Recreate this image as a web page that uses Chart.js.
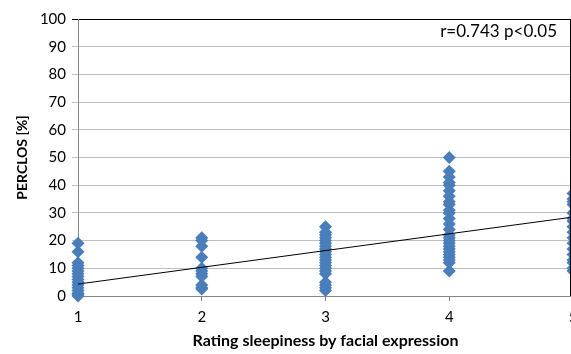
<!DOCTYPE html>
<html>
<head>
<meta charset="utf-8">
<script src="https://cdn.jsdelivr.net/npm/chart.js@4"></script>
<style>
  html, body { margin: 0; padding: 0; background: #fff; overflow: hidden; }
  #wrap { width: 600px; height: 354px; }
</style>
</head>
<body>
<div id="wrap"><canvas id="grafico"></canvas></div>
<script>
const ratings = [1, 2, 3, 4, 5];

const perclos1 = [19, 16, 12, 11, 10, 9, 8, 7, 6, 5, 4, 3, 2, 1, 0.5, 0];
const perclos2 = [21, 20, 18, 14, 10, 9, 8, 7, 4, 3, 2.5];
const perclos3 = [25, 23, 22, 21, 20, 19, 18, 17, 16, 15, 14, 13, 12, 11, 10, 9, 8, 5, 4, 3, 2];
const perclos4 = [50, 45, 43, 41, 40, 38, 36, 34, 33, 31, 30, 28, 26, 24, 22, 21, 20, 19, 18, 17, 16, 15, 14, 13, 12, 9];
const perclos5 = [37, 35, 34, 33, 30, 28, 27, 25, 23, 21, 19, 17, 15, 13, 12, 10, 9];

const trendX = [1, 5];
const trendY = [4.3, 28.5];

const yTicks = [0, 10, 20, 30, 40, 50, 60, 70, 80, 90, 100];

const correlationText = 'r=0.743 p<0.05';

const allSeries = [perclos1, perclos2, perclos3, perclos4, perclos5];
const points = [];
allSeries.forEach(function (serie, i) {
    serie.forEach(function (v) {
        points.push({ x: ratings[i], y: v });
    });
});

const fonte = 'Lato, "Liberation Sans", sans-serif';

// texto da correlacao e borda direita da area do grafico
const textoCorrelacao = {
    id: 'textoCorrelacao',
    afterDraw: function (chart) {
        const c = chart.ctx;
        const area = chart.chartArea;
        c.save();
        c.strokeStyle = '#000';
        c.lineWidth = 1;
        c.beginPath();
        c.moveTo(570.5, area.top);
        c.lineTo(570.5, area.bottom);
        c.stroke();
        c.font = '17px ' + fonte;
        c.fillStyle = '#000';
        c.textAlign = 'right';
        c.textBaseline = 'middle';
        c.fillText(correlationText, 557, area.top + 13);
        c.restore();
    }
};

new Chart(document.getElementById('grafico'), {
    type: 'scatter',
    data: {
        datasets: [{
            type: 'line',
            data: trendX.map((x, i) => ({ x: x, y: trendY[i] })),
            borderColor: '#000',
            borderWidth: 1,
            pointRadius: 0,
            fill: false,
            order: 0
        }, {
            data: points,
            pointStyle: 'rectRot',
            pointRadius: 6.5,
            pointHoverRadius: 6.5,
            backgroundColor: '#4a7ebb',
            borderColor: '#4a7ebb',
            borderWidth: 0,
            clip: false,
            order: 1
        }]
    },
    options: {
        responsive: true,
        maintainAspectRatio: false,
        animation: false,
        layout: { padding: { top: 19, right: 27, left: 0, bottom: 0 } },
        plugins: {
            legend: { display: false },
            tooltip: { enabled: false }
        },
        scales: {
            x: {
                type: 'linear',
                min: 1,
                max: 5,
                afterBuildTicks: function (scale) {
                    scale.ticks = ratings.map(v => ({ value: v }));
                },
                afterFit: function (scale) { scale.height = 58; },
                grid: {
                    drawOnChartArea: false,
                    color: '#868686',
                    tickLength: 5
                },
                border: { color: '#868686' },
                ticks: {
                    color: '#000',
                    font: { family: fonte, size: 15 },
                    padding: 7
                },
                title: {
                    display: true,
                    text: 'Rating sleepiness by facial expression',
                    color: '#000',
                    font: { family: fonte, size: 16, weight: 'bold' },
                    padding: { top: 6 }
                }
            },
            y: {
                min: 0,
                max: 100,
                afterBuildTicks: function (scale) {
                    scale.ticks = yTicks.map(v => ({ value: v }));
                },
                afterFit: function (scale) { scale.width = 78; },
                grid: {
                    color: ctx => (ctx.tick && ctx.tick.value === 100) ? '#000' : '#bfbfbf',
                    tickLength: 6
                },
                border: { color: '#868686' },
                ticks: {
                    color: '#000',
                    font: { family: fonte, size: 15 },
                    padding: 6
                },
                title: {
                    display: true,
                    text: 'PERCLOS [%]',
                    color: '#000',
                    font: { family: fonte, size: 14, weight: 'bold' },
                    padding: { top: 14, bottom: 4 }
                }
            }
        }
    },
    plugins: [textoCorrelacao]
});
</script>
</body>
</html>
